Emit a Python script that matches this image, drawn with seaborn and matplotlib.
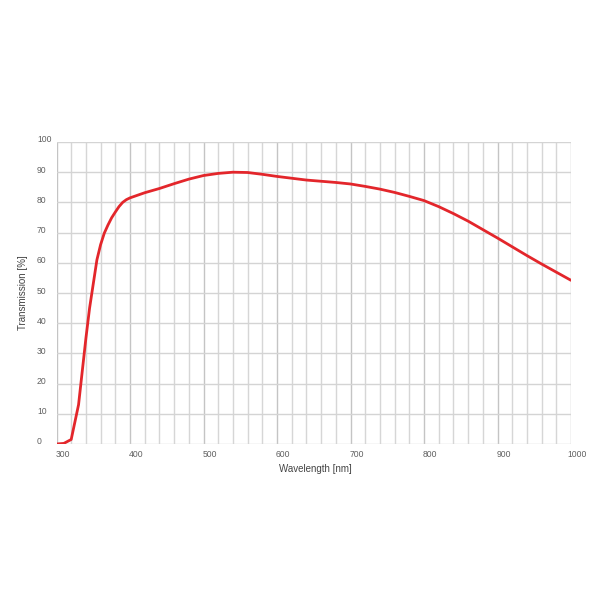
import numpy as np
import pandas as pd
import matplotlib
matplotlib.use("Agg")
import matplotlib.pyplot as plt
import seaborn as sns
from matplotlib.transforms import ScaledTranslation

wavelength = [300, 310, 320, 330, 340, 345, 350, 355, 360, 365, 370, 375, 380, 385, 390, 395, 400, 420, 440, 460,
              480, 500, 520, 540, 560, 580, 600, 620, 640, 660, 680, 700, 720, 740, 760,
              780, 800, 820, 840, 860, 880, 900, 920, 940, 960, 980, 1000]
transmission = [0, 0.2, 1.5, 13, 35, 45, 53, 61, 66, 69.8, 72.5, 74.9, 76.8, 78.6, 80, 80.9, 81.5, 83.2, 84.6, 86.2,
                87.7, 88.9, 89.6, 90.0, 89.9, 89.3, 88.6, 88.0, 87.4, 87.0, 86.6, 86.1, 85.3, 84.4, 83.3,
                82.0, 80.6, 78.6, 76.3, 73.8, 71.0, 68.2, 65.3, 62.4, 59.6, 56.9, 54.2]
x_ticks = [300, 400, 500, 600, 700, 800, 900, 1000]
y_ticks = [0, 10, 20, 30, 40, 50, 60, 70, 80, 90, 100]

sns.set_style("white")
plt.rcParams['font.family'] = ['Liberation Sans', 'DejaVu Sans']

df = pd.DataFrame({"Wavelength": wavelength, "Transmission": transmission})

fig = plt.figure(figsize=(6, 6), dpi=100)
ax = fig.add_axes([56.5/600, 1-444/600, (571-56.5)/600, (444-142)/600])

# grid
for xv in range(300, 1001, 20):
    ax.axvline(xv, color="#c4c4c4" if xv % 100 == 0 else "#d6d6d6", lw=1.0, zorder=0)
for yv in range(0, 101, 10):
    ax.axhline(yv, color="#d4d4d4", lw=1.0, zorder=0)

sns.lineplot(data=df, x="Wavelength", y="Transmission", color="#e3262b", lw=2.0, ax=ax, zorder=3)

ax.set_xlim(300, 1000)
ax.set_ylim(0, 100)
for s in ax.spines.values():
    s.set_visible(False)

ax.set_xticks(x_ticks)
ax.set_yticks(y_ticks)
ax.set_xticklabels([str(v) for v in x_ticks])
ax.set_yticklabels([str(v) for v in y_ticks])
ax.tick_params(axis="both", length=0, labelsize=6.2, labelcolor="#606060")
ax.tick_params(axis="x", pad=4.5)
ax.tick_params(axis="y", pad=0)

for lab in ax.get_yticklabels():
    lab.set_ha("left")
    lab.set_transform(lab.get_transform() + ScaledTranslation(-19.5/100, 3/100, fig.dpi_scale_trans))
for lab in ax.get_xticklabels():
    lab.set_transform(lab.get_transform() + ScaledTranslation(6/100, 0, fig.dpi_scale_trans))

ax.set_xlabel("Wavelength [nm]", fontsize=7, color="#444444")
ax.set_ylabel("Transmission [%]", fontsize=7, color="#444444")
ax.xaxis.set_label_coords((315 - 56.5) / 514.5, (444 - 469.5) / 302)
ax.yaxis.set_label_coords((23 - 56.5) / 514.5, 0.5)
ax.xaxis.label.set_va("center")
ax.yaxis.label.set_va("center")

fig.savefig("out.png", dpi=100, facecolor="white")
